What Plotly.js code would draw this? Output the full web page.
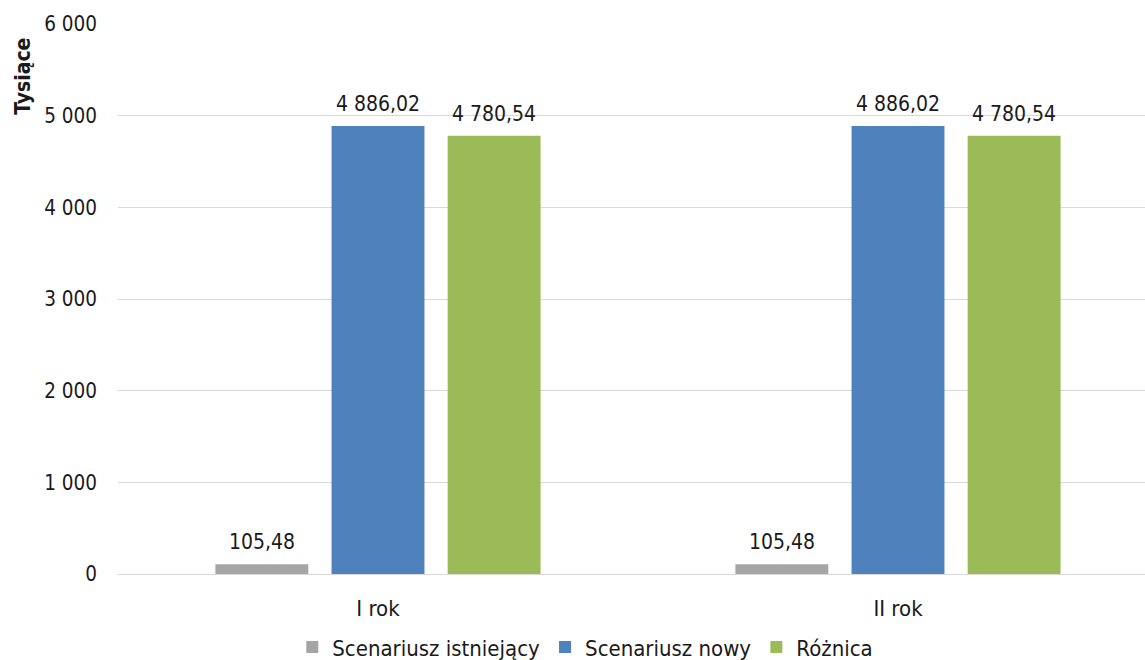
<!DOCTYPE html>
<html>
<head>
<meta charset="utf-8">
<script src="https://cdn.plot.ly/plotly-3.0.1.min.js"></script>
<style>
  html, body { margin: 0; padding: 0; background: #fff; }
  #chart { width: 1145px; height: 660px; }
</style>
</head>
<body>
<div id="chart"></div>
<script>
// Years compared
const categories = ['I rok', 'II rok'];

// Values in thousands
const scenariuszIstniejacy = [105.48, 105.48];
const scenariuszNowy = [4886.02, 4886.02];
const roznica = [4780.54, 4780.54];

const seriesNames = ['Scenariusz istniejący', 'Scenariusz nowy', 'Różnica'];
const seriesColors = ['#A5A5A5', '#4F81BD', '#9BBB59'];
const seriesValues = [scenariuszIstniejacy, scenariuszNowy, roznica];

const FONT = 'DejaVu Sans Condensed, Noto Sans, sans-serif';
const TEXT_COLOR = '#1a1a1a';

const W = 1145, H = 660;
const margin = { l: 118, r: 0, t: 24, b: 86, autoexpand: false };
const xRange = [-0.5, 1.475];
const BARGAP = 0.33;

// Horizontal distance in pixels between neighbouring bars of one group
const pxPerCategory = (W - margin.l - margin.r) / (xRange[1] - xRange[0]);
const slotPx = (1 - BARGAP) / seriesValues.length * pxPerCategory;

const data = seriesValues.map((vals, i) => ({
  type: 'bar',
  name: seriesNames[i],
  x: categories,
  y: vals,
  marker: { color: seriesColors[i] },
  hoverinfo: 'skip'
}));

// Value labels above each bar
const fmt = v => {
  const parts = v.toFixed(2).split('.');
  parts[0] = parts[0].replace(/\B(?=(\d{3})+(?!\d))/g, ' ');
  return parts.join(',');
};
const valueLabels = [];
seriesValues.forEach((vals, i) => {
  vals.forEach((v, j) => {
    valueLabels.push({
      x: categories[j],
      y: v,
      xref: 'x',
      yref: 'y',
      text: fmt(v),
      showarrow: false,
      xanchor: 'center',
      yanchor: 'bottom',
      xshift: (i - (seriesValues.length - 1) / 2) * slotPx,
      yshift: 8,
      font: { family: FONT, size: 21, color: TEXT_COLOR }
    });
  });
});

const layout = {
  width: W,
  height: H,
  margin: margin,
  paper_bgcolor: '#ffffff',
  plot_bgcolor: '#ffffff',
  separators: ', ',
  barmode: 'group',
  bargap: BARGAP,
  bargroupgap: 0.2,
  font: { family: FONT, size: 20, color: TEXT_COLOR },
  xaxis: {
    type: 'category',
    range: xRange,
    showgrid: false,
    zeroline: false,
    showline: false,
    ticks: '',
    ticklabelstandoff: 19,
    tickfont: { family: FONT, size: 22, color: TEXT_COLOR },
    fixedrange: true
  },
  yaxis: {
    range: [0, 6000],
    dtick: 1000,
    tickformat: ',d',
    showgrid: true,
    gridcolor: '#d9d9d9',
    gridwidth: 1,
    zeroline: true,
    zerolinecolor: '#d9d9d9',
    zerolinewidth: 1,
    showline: false,
    ticks: '',
    ticklabelstandoff: 20,
    tickfont: { family: FONT, size: 20.5, color: TEXT_COLOR },
    fixedrange: true
  },
  showlegend: true,
  legend: {
    orientation: 'h',
    x: 0.455,
    xanchor: 'center',
    y: -0.095,
    yanchor: 'top',
    font: { family: FONT, size: 22, color: TEXT_COLOR },
    itemwidth: 30,
    traceorder: 'normal'
  },
  annotations: valueLabels.concat([
    {
      text: '<b>Tysiące</b>',
      xref: 'paper',
      yref: 'paper',
      x: -0.092,
      y: 0.905,
      xanchor: 'center',
      yanchor: 'middle',
      textangle: -90,
      showarrow: false,
      font: { family: FONT, size: 21, color: TEXT_COLOR }
    }
  ])
};

Plotly.newPlot('chart', data, layout, { displayModeBar: false, staticPlot: true });
</script>
</body>
</html>
